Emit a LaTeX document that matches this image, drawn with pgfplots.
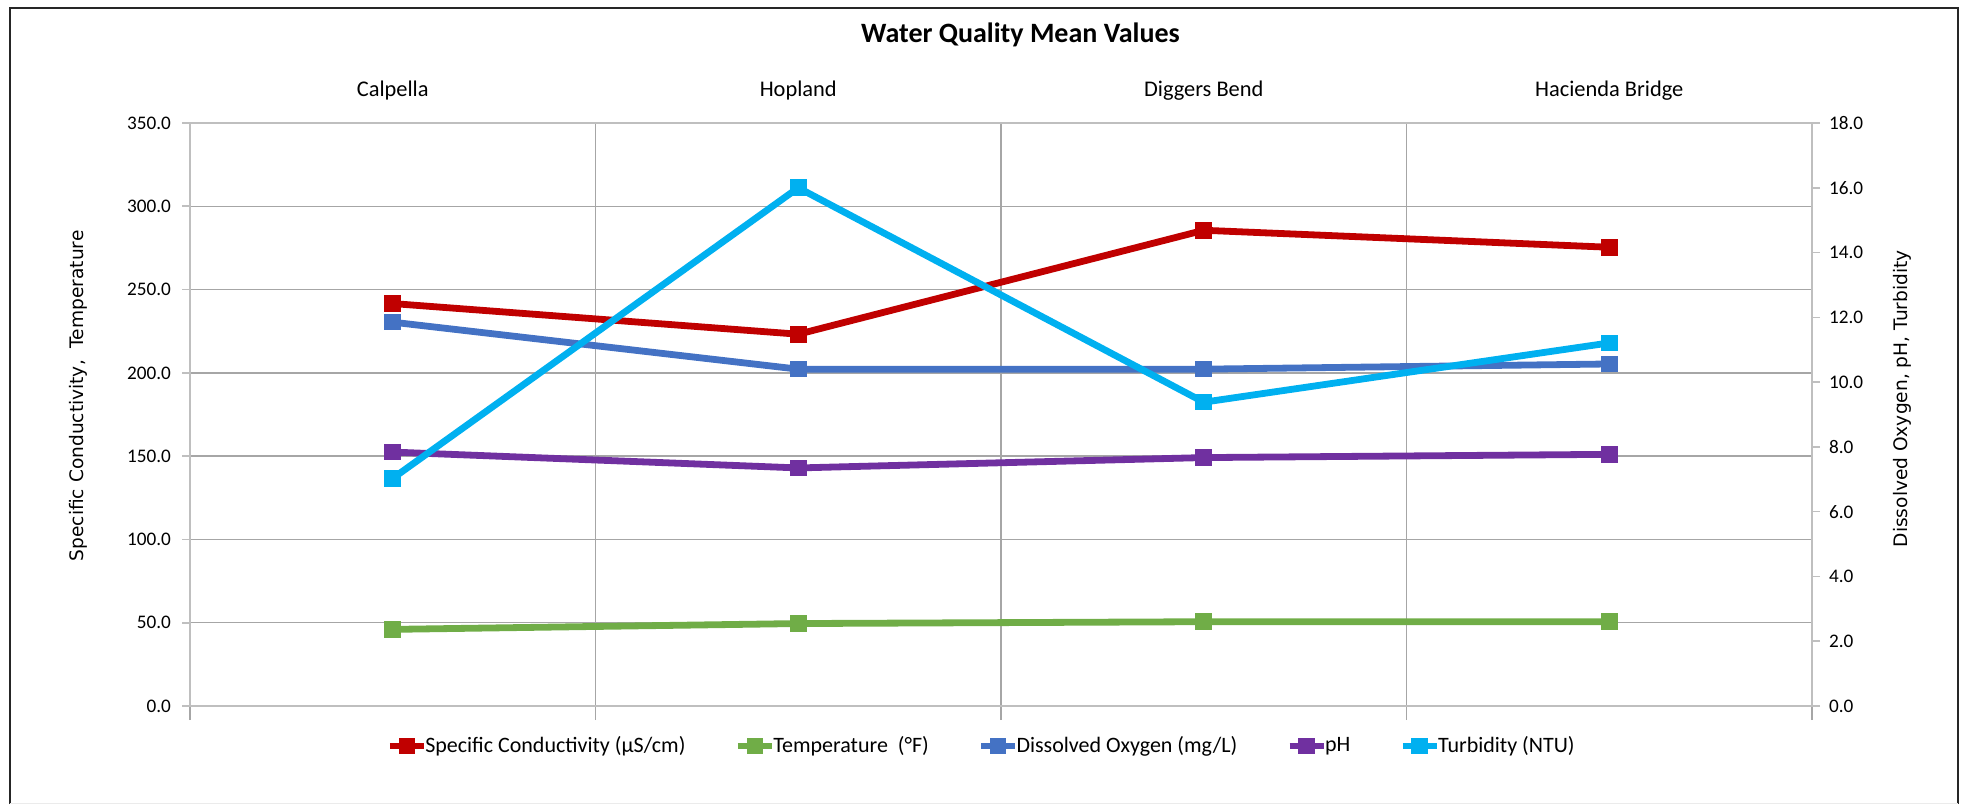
\documentclass[border=0pt]{standalone}
\usepackage{fontspec}
\setmainfont{Carlito}
\newfontfamily\lblfont{DejaVu Sans}
\usepackage{pgfplots}
\pgfplotsset{compat=1.18}
\usepackage{pgfplotstable}

\definecolor{cSC}{HTML}{C00000}
\definecolor{cT}{HTML}{70AD47}
\definecolor{cDO}{HTML}{4472C4}
\definecolor{cPH}{HTML}{7030A0}
\definecolor{cTU}{HTML}{00B0F0}
\definecolor{gridc}{HTML}{A6A6A6}
\definecolor{axc}{HTML}{BFBFBF}

\pgfplotstableread{
x sc temp do ph turb
0 241.6 46.0 11.85 7.84 7.03
1 223.2 49.5 10.40 7.35 16.00
2 285.6 50.6 10.40 7.67 9.38
3 275.4 50.6 10.56 7.77 11.21
}\datatable

\pgfplotsset{
  ser/.style={line width=3.4pt, mark=square*, mark size=3.9pt, mark options={solid, line width=0pt}},
  common/.style={
    scale only axis, width=811pt, height=291.5pt,
    at={(95pt,49pt)}, anchor=south west,
    xmin=-0.5, xmax=3.5, ymin=0,
    tick align=outside,
    /pgf/number format/assume math mode=true,
    /pgf/number format/.cd, fixed, fixed zerofill, precision=1, /pgfplots/.cd,
    legend image code/.code={\draw[mark repeat=2,mark phase=2,#1] plot coordinates {(0pt,0pt) (8.5pt,0pt) (17pt,0pt)};},
  },
}

\begin{document}
\begin{tikzpicture}
\useasboundingbox (0,0) rectangle (984.5pt,402pt);
\draw[line width=1pt, black!85] (4.75pt,0) -- (4.75pt,398pt) -- (979pt,398pt) -- (979pt,0);
\draw[line width=0.6pt, black!8] (4.75pt,0.3pt) -- (979pt,0.3pt);

\begin{axis}[common,
  ymax=350, ytick={0,50,...,350},
  ymajorgrids, 
  major grid style={gridc, line width=0.7pt},
  minor grid style={gridc, line width=0.7pt},
  axis line style={axc, line width=1.1pt},
  xtick={0,1,2,3},
  xticklabels={Calpella, Hopland, Diggers Bend, Hacienda Bridge},
  xtick pos=left, ytick pos=left,
  xticklabel pos=right,
  major x tick style={draw=none},
  minor xtick={-0.5,0.5,1.5,2.5,3.5},
  xminorgrids,
  minor tick length=7pt,
  minor x tick style={gridc, line width=0.7pt},
  major tick length=4pt,
  major y tick style={axc, line width=0.8pt},
  xticklabel style={font=\fontsize{11.2}{13}\selectfont, anchor=center, yshift=12pt},
  yticklabel style={font=\fontsize{9.6}{11}\selectfont, xshift=-2pt},
  ylabel={Specific Conductivity,\ \ Temperature},
  every axis y label/.style={at={(axis description cs:-0.069,0.532)}, rotate=90, anchor=center, font=\lblfont\fontsize{9.3}{11}\selectfont},
  title={\textbf{Water Quality Mean Values}},
  every axis title/.style={at={(axis description cs:0.512,1.151)}, anchor=center, font=\fontsize{14}{16}\selectfont},
]
\addplot[ser, cSC] table[x=x, y=sc] {\datatable};
\addplot[ser, cT] table[x=x, y=temp] {\datatable};
\end{axis}

\begin{axis}[common,
  ymax=18, ytick={0,2,...,18},
  axis x line=none,
  axis y line*=right,
  axis line style={axc, line width=1.1pt},
  major tick length=4pt,
  major y tick style={axc, line width=0.8pt},
  yticklabel style={font=\fontsize{9.6}{11}\selectfont, xshift=1pt},
  ylabel={Dissolved Oxygen, pH, Turbidity},
  every axis y label/.style={at={(axis description cs:1.0555,0.527)}, rotate=90, anchor=center, font=\lblfont\fontsize{9.3}{11}\selectfont},
  legend columns=5,
  legend style={draw=none, fill=none, at={(axis description cs:0.488,-0.0686)}, anchor=center,
    font=\fontsize{11}{13}\selectfont,
    /tikz/every even column/.append style={column sep=23.5pt},
    /tikz/every odd column/.append style={column sep=-2pt},
    nodes={inner sep=1pt}},
]
\addlegendimage{ser, cSC}
\addlegendentry{Specific Conductivity (µS/cm)}
\addlegendimage{ser, cT}
\addlegendentry{Temperature\ \ (°F)}
\addplot[ser, cDO] table[x=x, y=do] {\datatable};
\addlegendentry{Dissolved Oxygen (mg/L)}
\addplot[ser, cPH] table[x=x, y=ph] {\datatable};
\addlegendentry{pH}
\addplot[ser, cTU] table[x=x, y=turb] {\datatable};
\addlegendentry{Turbidity (NTU)}
\end{axis}
\end{tikzpicture}
\end{document}
